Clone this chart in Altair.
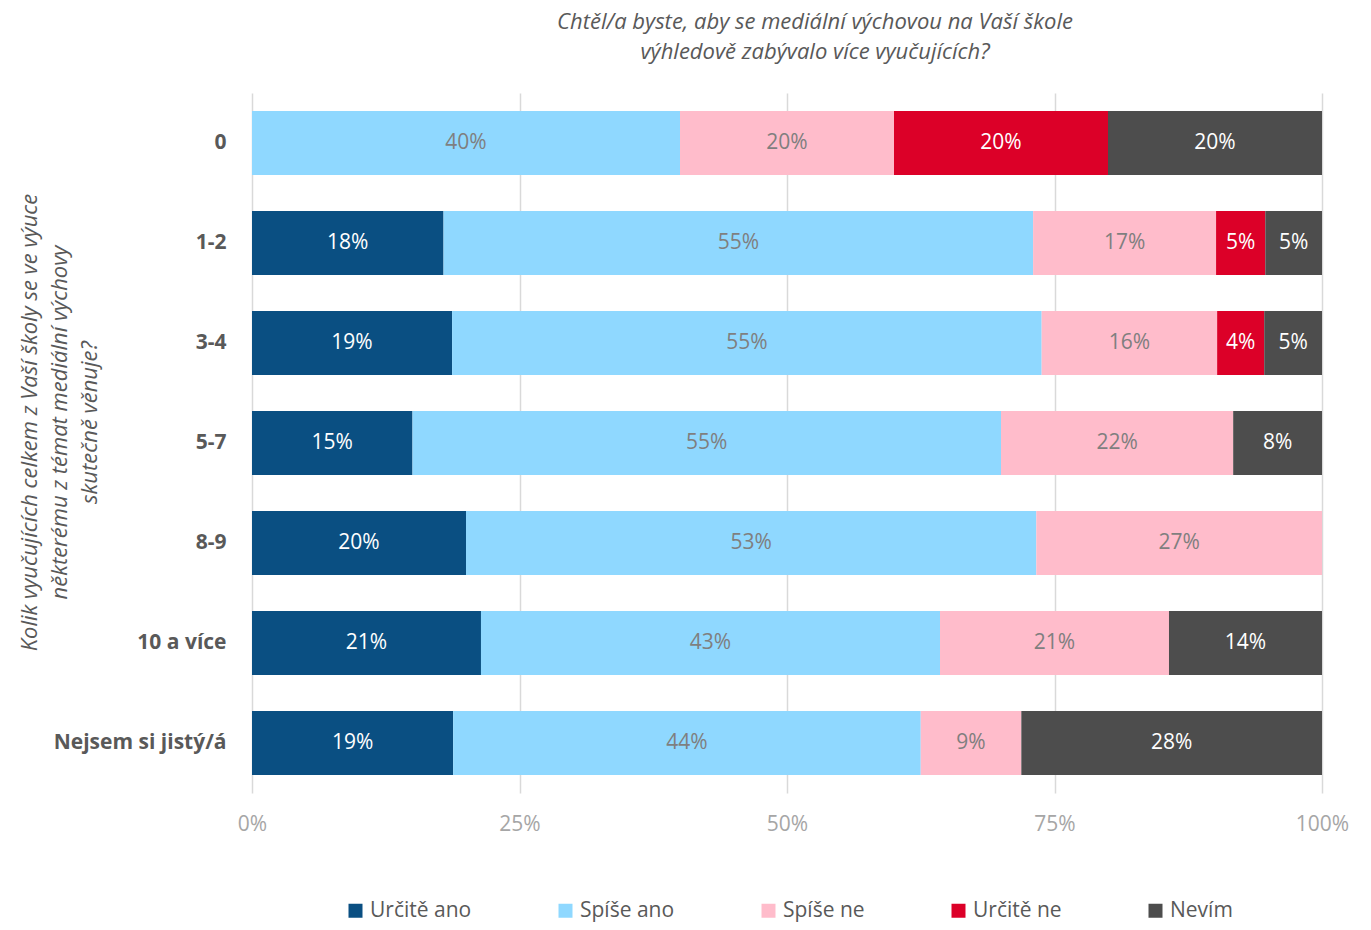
import altair as alt
import pandas as pd

categories = ["0", "1-2", "3-4", "5-7", "8-9", "10 a více", "Nejsem si jistý/á"]
answers = ["Určitě ano", "Spíše ano", "Spíše ne", "Určitě ne", "Nevím"]
colors = ["#0a4f82", "#8fd8ff", "#ffbccb", "#dc0028", "#4d4d4d"]

urcite_ano = [0, 17.9, 18.7, 15.0, 20.0, 21.4, 18.8]
spise_ano = [40, 55.1, 55.1, 55.0, 53.3, 42.9, 43.7]
spise_ne = [20, 17.1, 16.4, 21.7, 26.7, 21.4, 9.4]
urcite_ne = [20, 4.6, 4.4, 0, 0, 0, 0]
nevim = [20, 5.3, 5.4, 8.3, 0, 14.3, 28.1]
series = [urcite_ano, spise_ano, spise_ne, urcite_ne, nevim]

x_ticks = [0, 0.25, 0.5, 0.75, 1]

title_lines = ["Chtěl/a byste, aby se mediální výchovou na Vaší škole",
               "výhledově zabývalo více vyučujících?"]
y_title_lines = ["Kolik vyučujících celkem z Vaší školy se ve výuce",
                 "některému z témat mediální výchovy",
                 "skutečně věnuje?"]

FONT = "Open Sans"
TXT = "#595959"

rows = []
for i, c in enumerate(categories):
    for j, (a, s) in enumerate(zip(answers, series)):
        v = s[i]
        if v > 0:
            rows.append({"kategorie": c, "odpoved": a, "poradi": j, "hodnota": v})
df = pd.DataFrame(rows)

base = alt.Chart(df).transform_stack(
    stack="hodnota",
    groupby=["kategorie"],
    as_=["x0", "x1"],
    offset="normalize",
    sort=[alt.SortField("poradi", order="ascending")],
).transform_calculate(
    xm="(datum.x0 + datum.x1) / 2",
    label="round(datum.hodnota) + '%'",
)

y_enc = alt.Y(
    "kategorie:N",
    sort=categories,
    scale=alt.Scale(paddingInner=0.36, paddingOuter=0.18),
    axis=alt.Axis(
        title=y_title_lines,
        titleAngle=-90,
        titleX=-233,
        titleY=329,
        titleAlign="center",
        titleBaseline="top",
        titleFont=FONT,
        titleFontSize=22,
        titleFontStyle="italic",
        titleFontWeight="normal",
        titleColor=TXT,
        titleLineHeight=30,
        labelFont=FONT,
        labelFontSize=21,
        labelFontWeight="bold",
        labelColor=TXT,
        labelPadding=26,
        labelLimit=300,
        ticks=False,
        domain=False,
        grid=False,
    ),
)

bars = base.mark_bar().encode(
    x=alt.X(
        "x0:Q",
        scale=alt.Scale(domain=[0, 1], nice=False),
        axis=alt.Axis(
            values=x_ticks,
            format=".0%",
            title=None,
            grid=True,
            gridColor="#d9d9d9",
            gridWidth=1.5,
            domain=False,
            ticks=False,
            labelFlush=False,
            labelFont=FONT,
            labelFontSize=21,
            labelColor="#a6a6a6",
            labelPadding=20,
        ),
    ),
    x2="x1:Q",
    y=y_enc,
    color=alt.Color(
        "odpoved:N",
        sort=answers,
        scale=alt.Scale(domain=answers, range=colors),
        legend=alt.Legend(
            title=None,
            orient="none",
            legendX=93,
            legendY=807,
            direction="horizontal",
            columns=5,
            gridAlign="each",
            columnPadding=83,
            symbolType="square",
            symbolSize=196,
            symbolStrokeWidth=0,
            labelFont=FONT,
            labelFontSize=21,
            labelColor=TXT,
            labelOffset=4,
        ),
    ),
)

text = base.mark_text(font=FONT, fontSize=21).encode(
    x="xm:Q",
    y=alt.Y("kategorie:N", sort=categories),
    text="label:N",
    color=alt.condition(
        "datum.odpoved == 'Spíše ano' || datum.odpoved == 'Spíše ne'",
        alt.value("#7f7f7f"),
        alt.value("#ffffff"),
    ),
)

chart = alt.layer(bars, text).properties(
    width=1070,
    height=700,
    autosize=alt.AutoSizeParams(type="none"),
    padding={"left": 244, "top": 85, "right": 32, "bottom": 129},
    title=alt.TitleParams(
        text=title_lines,
        font=FONT,
        fontSize=22,
        fontStyle="italic",
        fontWeight="normal",
        color=TXT,
        lineHeight=30,
        anchor="middle",
        dx=28,
        offset=29,
    ),
).configure_view(stroke=None)

chart.save("out.html", embed_options={"renderer": "svg", "actions": False})
